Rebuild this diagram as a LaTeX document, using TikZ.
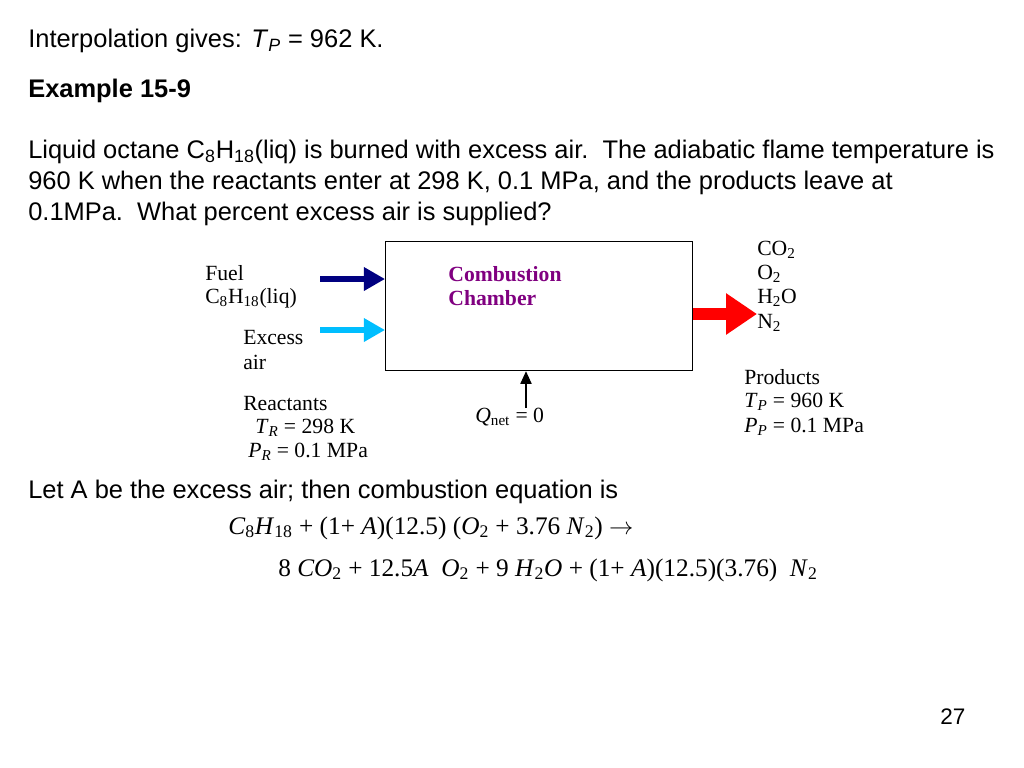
\documentclass[tikz,border=0pt]{standalone}
\usepackage{fontspec}
\setmainfont{Liberation Sans}
\newfontfamily\timesfont{Liberation Serif}
\usetikzlibrary{arrows.meta}
\definecolor{fuelblue}{RGB}{0,0,128}
\definecolor{airblue}{RGB}{0,190,255}
\definecolor{chamberpurple}{RGB}{128,0,128}
\newcommand{\eqsym}[2]{\textit{#1}\textsubscript{#2}}

\begin{document}
\begin{tikzpicture}[x=0.025cm,y=-0.025cm,
    txt/.style={anchor=west,inner sep=0pt,font=\fontsize{18.1}{22}\selectfont},
    lbl/.style={anchor=west,inner sep=0pt,font=\timesfont\fontsize{15.4}{18}\selectfont},
    eqn/.style={anchor=west,inner sep=0pt,font=\timesfont\fontsize{18}{22}\selectfont},
    inflow/.style={line width=3.6pt,-{Triangle[length=15pt,width=16pt]}},
    outflow/.style={red,line width=9pt,-{Triangle[length=22pt,width=28pt]}}]
        \useasboundingbox (0,0) rectangle (1024,768);
        % text above
        \node[txt] (interp) at (28,41) {Interpolation gives: \textit{T}\textsubscript{\textit{P}} = 962 K.};
        \node[txt] (example) at (28,91) {\textbf{Example 15-9}};
        \node[txt] (line1) at (28,152) {Liquid octane C\textsubscript{8}H\textsubscript{18}(liq) is burned with excess air.\ \ The adiabatic flame temperature is};
        \node[txt] (line2) at (28,183) {960 K when the reactants enter at 298 K, 0.1 MPa, and the products leave at};
        \node[txt] (line3) at (28,214) {0.1MPa.\ \ What percent excess air is supplied?};
        % chamber
        \node[draw,thick,minimum width=218.4pt,minimum height=91.8pt,anchor=north west,inner sep=0pt] (chamber) at (385,241) {};
        \node[lbl,anchor=center,text=chamberpurple,font=\timesfont\bfseries\fontsize{15.4}{18}\selectfont,align=left] (chambertxt) at (505,286) {Combustion\\[-1pt]Chamber};
        % reactants
        \node[lbl] (fuel) at (205,273) {Fuel};
        \node[lbl] (fuelname) at (205,298) {C\textsubscript{8}H\textsubscript{18}(liq)};
        \node[lbl] (excess) at (243,338) {Excess};
        \node[lbl] (air) at (243,362) {air};
        \node[lbl] (reactants) at (243,404) {Reactants};
        \node[lbl] (treact) at (255,428) {\eqsym{T}{\textit{R}} = 298 K};
        \node[lbl] (preact) at (248,452) {\eqsym{P}{\textit{R}} = 0.1 MPa};
        \coordinate (fuelin) at (320,279);
        \coordinate (airin) at (320,330);
        \draw[inflow,fuelblue] (fuelin) -- (fuelin -| chamber.west);
        \draw[inflow,airblue] (airin) -- (airin -| chamber.west);
        % heat
        \node[lbl] (qnet) at (475,417) {\textit{Q}\textsubscript{net} = 0};
        \coordinate (qfoot) at (526,408);
        \draw[thick,-{Triangle[length=9pt,width=8pt]}] (qfoot) -- (qfoot |- chamber.south);
        % products
        \node[lbl] (co2) at (757,250) {CO\textsubscript{2}};
        \node[lbl] (o2) at (757,274) {O\textsubscript{2}};
        \node[lbl] (h2o) at (757,298) {H\textsubscript{2}O};
        \node[lbl] (n2) at (757,323) {N\textsubscript{2}};
        \node[lbl] (products) at (744,377) {Products};
        \node[lbl] (tprod) at (744,402) {\eqsym{T}{\textit{P}} = 960 K};
        \node[lbl] (pprod) at (744,427) {\eqsym{P}{\textit{P}} = 0.1 MPa};
        \coordinate (prodtip) at (757,314);
        \draw[outflow] (prodtip -| chamber.east) -- (prodtip);
        % equation
        \node[txt] (letA) at (28,492) {Let A be the excess air; then combustion equation is};
        \node[eqn] (eq1) at (228,528) {\eqsym{C}{8}\eqsym{H}{18} + (1+ \textit{A})(12.5) (\eqsym{O}{2} + 3.76 \eqsym{N}{2}) $\rightarrow$};
        \node[eqn] (eq2) at (278,570) {8 \eqsym{CO}{2} + 12.5\textit{A}\ \ \eqsym{O}{2} + 9 \textit{H}\textsubscript{2}\textit{O} + (1+ \textit{A})(12.5)(3.76)\ \ \eqsym{N}{2}};
        \node[txt,font=\fontsize{16}{20}\selectfont] (page) at (940,717) {27};
\end{tikzpicture}
\end{document}
